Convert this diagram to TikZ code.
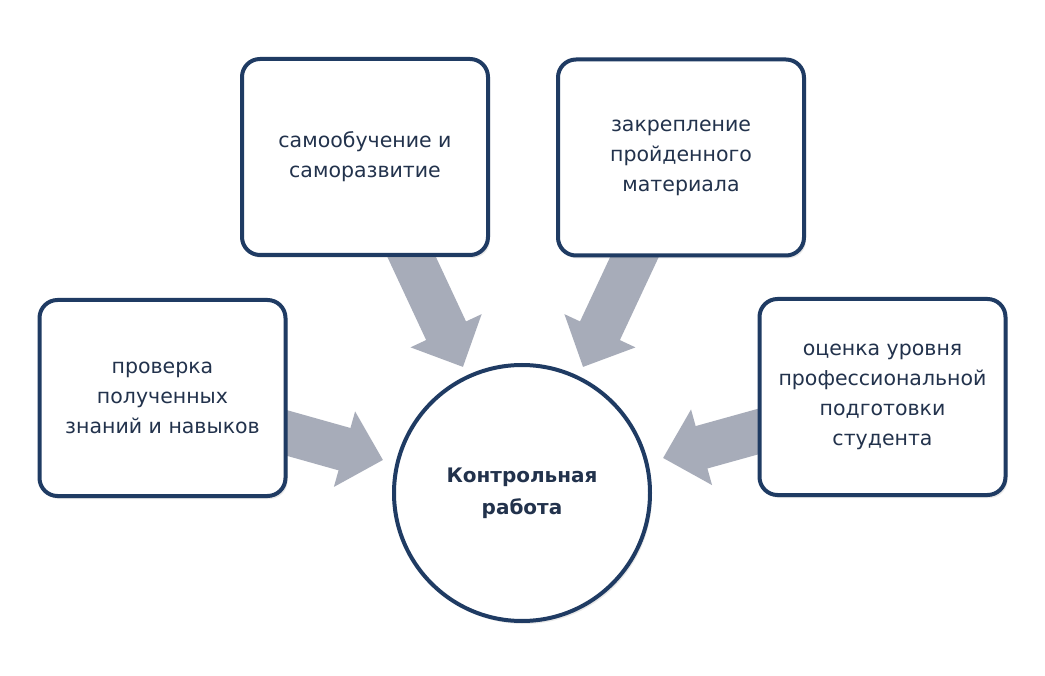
\documentclass[tikz,border=0pt]{standalone}
\usepackage{fontspec}
\setmainfont{DejaVu Sans}
\usetikzlibrary{arrows.meta,shadows}
\pgfdeclarelayer{background}
\pgfsetlayers{background,main}
\definecolor{navy}{HTML}{1F3B63}
\definecolor{txt}{HTML}{22324C}
\definecolor{arrowgray}{HTML}{A7ACB9}
\tikzset{
  box/.style={draw=navy, line width=4pt, fill=white, rounded corners=18pt,
    minimum width=246pt, minimum height=196pt, align=center, text=txt,
    font=\fontsize{20.5pt}{30pt}\selectfont, inner sep=0pt,
    drop shadow={opacity=0.18, shadow xshift=2pt, shadow yshift=-3pt}},
  circ/.style={draw=navy, line width=4pt, fill=white, circle, minimum size=256pt,
    align=center, text=txt, font=\fontsize{20pt}{32pt}\selectfont\bfseries, inner sep=0pt,
    drop shadow={opacity=0.18, shadow xshift=2pt, shadow yshift=-3pt}},
  bigarrow/.style={draw=arrowgray, line width=44pt,
    -{Triangle[width=76pt,length=40pt]}}
}
\begin{document}
\begin{tikzpicture}[x=1pt,y=-1pt]
\useasboundingbox (0,0) rectangle (1045,676);
\node[box] (b1) at (365,157) {самообучение и\\саморазвитие};
\node[box] (b2) at (681,157.5) {закрепление\\пройденного\\материала};
\node[box] (b3) at (162.5,398) {проверка\\полученных\\знаний и навыков};
\node[box] (b4) at (882.5,397) {оценка уровня\\профессиональной\\подготовки\\студента};
\node[circ] (c) at (522,493) {Контрольная\\работа};
\coordinate (t1) at (463,367);
\coordinate (t2) at (583,367);
\coordinate (t3) at (383,460);
\coordinate (t4) at (663,458);
\begin{pgfonlayer}{background}
\fill[white] (0,0) rectangle (1045,676);
\draw[bigarrow] (b1.center) -- (t1);
\draw[bigarrow] (b2.center) -- (t2);
\draw[bigarrow] (b3.center) -- (t3);
\draw[bigarrow] (b4.center) -- (t4);
\end{pgfonlayer}
\end{tikzpicture}
\end{document}
